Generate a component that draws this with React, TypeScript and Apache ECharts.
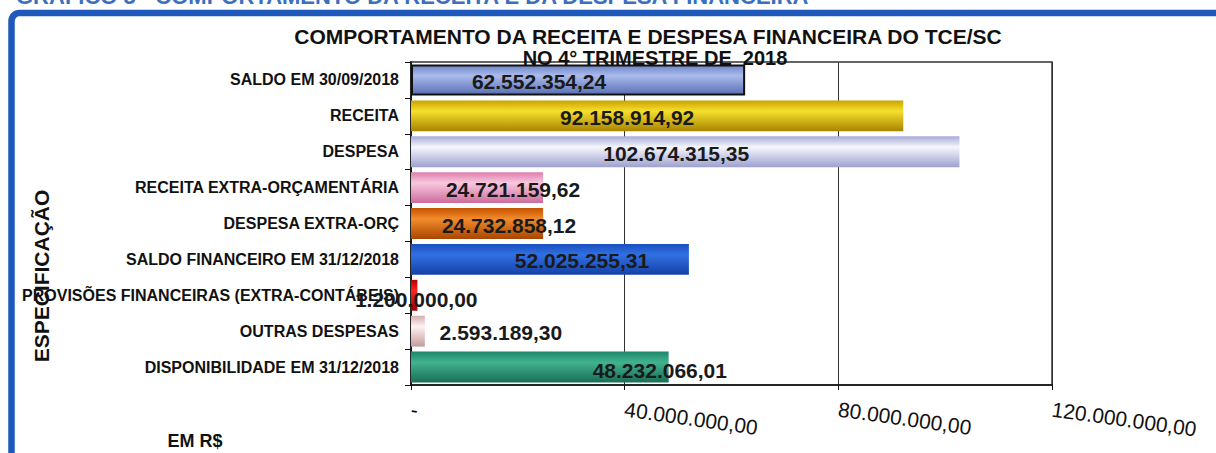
import React, { useEffect, useRef } from "react";
import * as echarts from "echarts";

const categories = [
  "SALDO EM 30/09/2018",
  "RECEITA",
  "DESPESA",
  "RECEITA EXTRA-ORÇAMENTÁRIA",
  "DESPESA EXTRA-ORÇ",
  "SALDO FINANCEIRO EM 31/12/2018",
  "PROVISÕES FINANCEIRAS (EXTRA-CONTÁBEIS)",
  "OUTRAS DESPESAS",
  "DISPONIBILIDADE EM 31/12/2018",
];

const values = [
  62552354.24,
  92158914.92,
  102674315.35,
  24721159.62,
  24732858.12,
  52025255.31,
  1200000.0,
  2593189.3,
  48232066.01,
];

const xTicks = [0, 40000000, 80000000, 120000000];

const chartTitle = "COMPORTAMENTO DA RECEITA E DESPESA FINANCEIRA DO TCE/SC";
const chartSubtitle = "NO 4° TRIMESTRE DE  2018";
const pageHeading = "GRÁFICO 5 - COMPORTAMENTO DA RECEITA E DA DESPESA FINANCEIRA";
const yName = "ESPECIFICAÇÃO";
const unitNote = "EM R$";

// styling (top, middle, bottom) gradient stops per bar
const barPalette: string[][] = [
  ["#6f86c8", "#aabbec", "#5a70b5"],
  ["#c9a300", "#f6df2c", "#a88400"],
  ["#a7abd7", "#f6f6fc", "#9da1cf"],
  ["#de7cae", "#f9c8de", "#cc6b9d"],
  ["#c65200", "#f28c2c", "#a94500"],
  ["#1a4fc0", "#3170e2", "#1440a6"],
  ["#b80000", "#ff2424", "#990000"],
  ["#d6aeae", "#fff2f2", "#c49b9b"],
  ["#1d876a", "#42b28e", "#186f56"],
];

// label nudges relative to the bar centre
const labelNudge: number[][] = [
  [-39, 2],
  [-30, 2],
  [-9, 2],
  [36, 2],
  [32, 2],
  [32, 1],
  [2, 4],
  [83, 1],
  [120, 3],
];

function fmtBR(v: number): string {
  if (v === 0) return "-";
  const fixed = Math.abs(v).toFixed(2);
  const [ip, dp] = fixed.split(".");
  const withDots = ip.replace(/\B(?=(\d{3})+(?!\d))/g, ".");
  return (v < 0 ? "-" : "") + withDots + "," + dp;
}

export default function App() {
  const ref = useRef<HTMLDivElement>(null);

  useEffect(() => {
    if (!ref.current) return;
    const chart = echarts.init(ref.current, undefined, { renderer: "svg" });
    const font = "'Liberation Sans', Arial, sans-serif";

    const data = values.map((v, i) => ({
      value: v,
      itemStyle: {
        color: new echarts.graphic.LinearGradient(0, 0, 0, 1, [
          { offset: 0, color: barPalette[i][0] },
          { offset: 0.35, color: barPalette[i][1] },
          { offset: 1, color: barPalette[i][2] },
        ]),
        borderColor: i === 0 ? "#111" : "transparent",
        borderWidth: i === 0 ? 2 : 0,
      },
      label: { offset: labelNudge[i] },
    }));

    chart.setOption({
      animation: false,
      backgroundColor: "#ffffff",
      grid: {
        left: 411,
        right: 164,
        top: 62,
        bottom: 68,
        show: true,
        borderColor: "#333",
        borderWidth: 1.5,
        backgroundColor: "#fff",
      },
      xAxis: {
        type: "value",
        min: xTicks[0],
        max: xTicks[xTicks.length - 1],
        interval: xTicks[1] - xTicks[0],
        axisLine: { show: true, lineStyle: { color: "#111", width: 1.5 } },
        axisTick: { show: true, length: 5, lineStyle: { color: "#111" } },
        splitLine: { show: true, lineStyle: { color: "#333", width: 1 } },
        axisLabel: {
          formatter: (v: number) => fmtBR(v),
          rotate: -8,
          margin: 24,
          fontSize: 21,
          color: "#111",
          fontFamily: font,
        },
      },
      yAxis: {
        type: "category",
        data: categories,
        inverse: true,
        axisLine: { show: true, lineStyle: { color: "#111", width: 1.5 } },
        axisTick: { show: true, length: 6, lineStyle: { color: "#111" } },
        splitLine: { show: false },
        axisLabel: {
          fontSize: 16,
          fontWeight: "bold",
          color: "#111",
          margin: 12,
          fontFamily: font,
        },
      },
      series: [
        {
          type: "bar",
          data,
          barCategoryGap: "14%",
          label: {
            show: true,
            position: "inside",
            formatter: (p: any) => fmtBR(p.value),
            fontSize: 21,
            fontWeight: "bold",
            color: "#1a1a1a",
            fontFamily: font,
          },
        },
      ],
      graphic: [
        {
          type: "rect",
          shape: { x: 11.5, y: 13, width: 1400, height: 700, r: 8 },
          style: { fill: "none", stroke: "#1f58bb", lineWidth: 6.5 },
          silent: true,
          z: 100,
        },
        {
          type: "text",
          x: 16,
          y: -15,
          style: {
            text: pageHeading,
            font: `bold 22px ${font}`,
            fill: "#3b6fc0",
            textAlign: "left",
            textVerticalAlign: "top",
          },
          silent: true,
        },
        {
          type: "text",
          x: 648,
          y: 36,
          style: {
            text: chartTitle,
            font: `bold 21px ${font}`,
            fill: "#111",
            textAlign: "center",
            textVerticalAlign: "middle",
          },
          silent: true,
        },
        {
          type: "text",
          x: 655,
          y: 58,
          style: {
            text: chartSubtitle,
            font: `bold 20px ${font}`,
            fill: "#111",
            textAlign: "center",
            textVerticalAlign: "middle",
          },
          silent: true,
        },
        {
          type: "text",
          x: 41,
          y: 276,
          rotation: Math.PI / 2,
          style: {
            text: yName,
            font: `bold 21px ${font}`,
            fill: "#111",
            textAlign: "center",
            textVerticalAlign: "middle",
          },
          silent: true,
        },
        {
          type: "text",
          x: 195,
          y: 441,
          style: {
            text: unitNote,
            font: `bold 18px ${font}`,
            fill: "#111",
            textAlign: "center",
            textVerticalAlign: "middle",
          },
          silent: true,
        },
      ],
    });

    return () => chart.dispose();
  }, []);

  return (
    <div
      ref={ref}
      style={{ position: "absolute", left: 0, top: 0, width: 1216, height: 453 }}
    />
  );
}
